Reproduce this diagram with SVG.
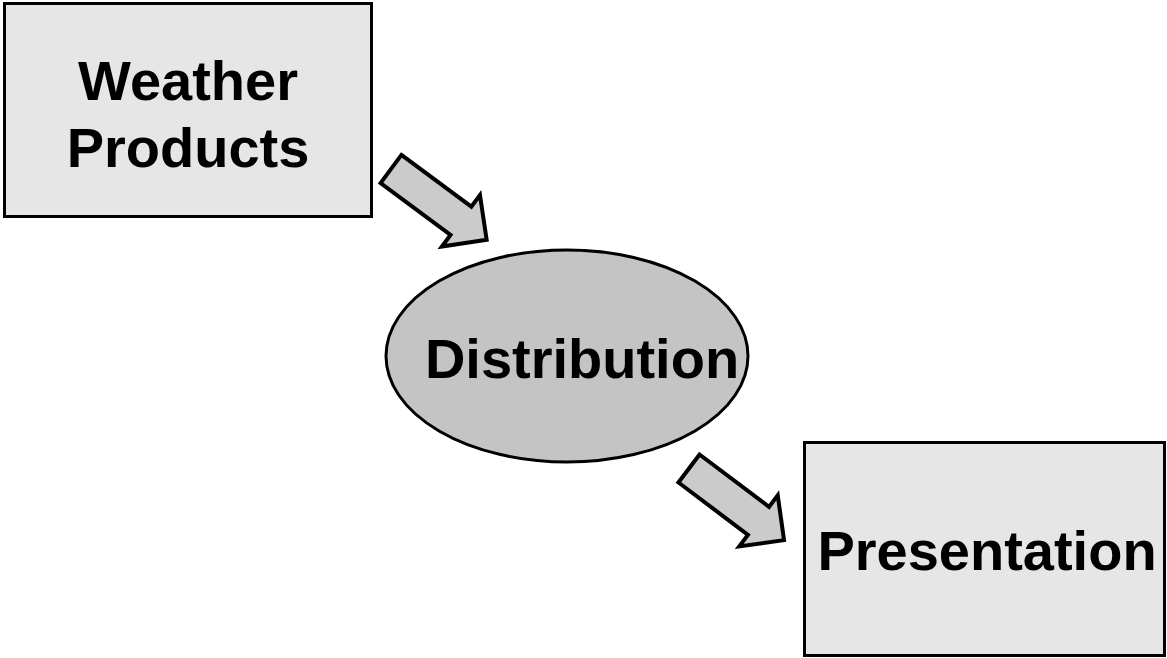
<svg xmlns="http://www.w3.org/2000/svg" width="1167" height="658" viewBox="0 0 1167 658">
<style>
.box{fill:#e6e6e6;stroke:#000;stroke-width:3}
.ell{fill:#c4c4c4;stroke:#000;stroke-width:3}
.arr{fill:#cbcbcb;stroke:#000;stroke-width:4;stroke-linejoin:miter}
.t{font-family:"Liberation Sans",Arial,sans-serif;font-weight:bold;font-size:56px;text-anchor:middle;fill:#000}
</style>
<defs>
<polygon id="arrowShape" points="0,-17.5 87,-17.5 87,-32 119,0 87,32 87,17.5 0,17.5"/>
</defs>
<rect width="1167" height="658" fill="#fff"/>
<g id="connectors">
<use href="#arrowShape" class="arr" transform="translate(391,169) rotate(36.5)"/>
<use href="#arrowShape" class="arr" transform="translate(689,468.5) rotate(37)"/>
</g>
<g id="weather">
<rect class="box" x="4.5" y="3.5" width="367" height="213"/>
<text class="t" x="188" y="100">Weather</text>
<text class="t" x="188" y="167">Products</text>
</g>
<g id="distribution">
<ellipse class="ell" cx="567" cy="356" rx="181" ry="106"/>
<text class="t" x="582" y="378">Distribution</text>
</g>
<g id="presentation">
<rect class="box" x="804.5" y="442.5" width="360" height="213"/>
<text class="t" x="987" y="570">Presentation</text>
</g>
</svg>
